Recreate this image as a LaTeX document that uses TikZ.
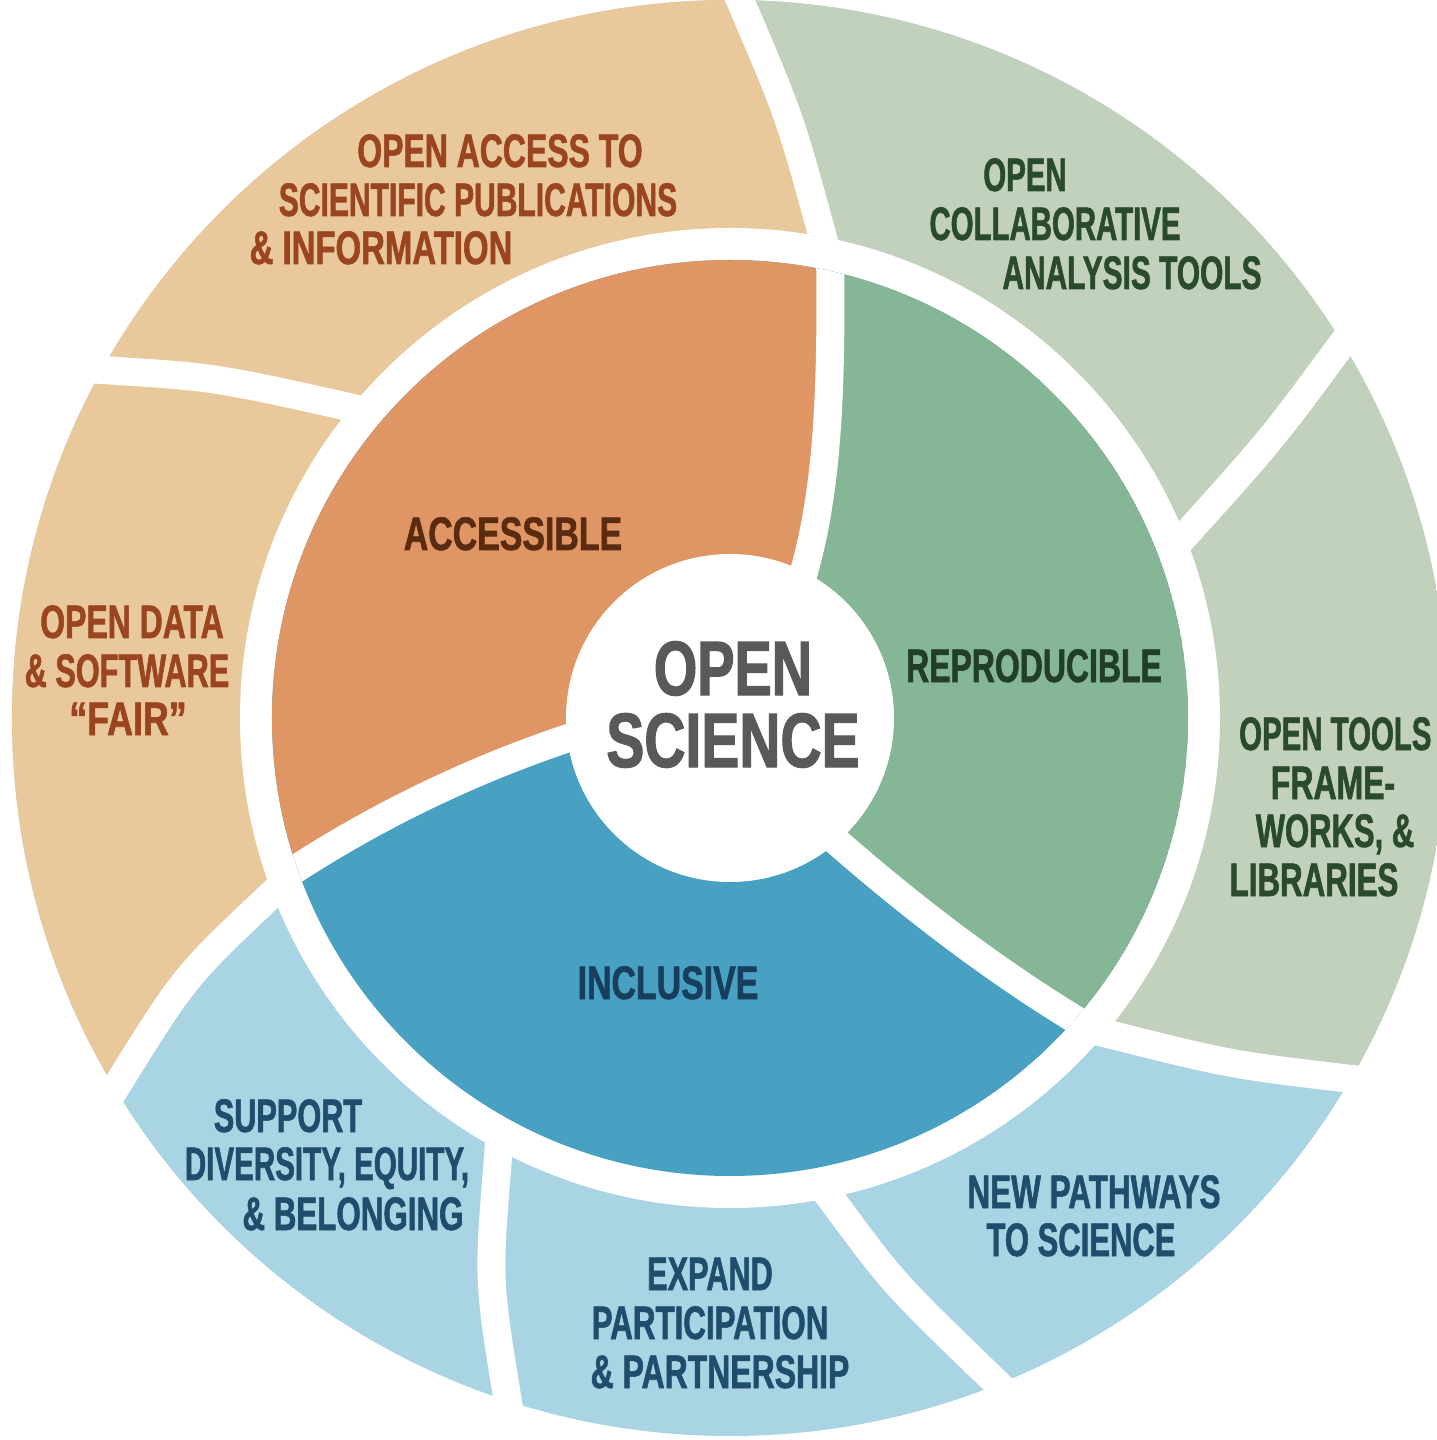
\documentclass[tikz,border=0pt]{standalone}
\usepackage{fontspec}
\newfontfamily\labfont{Liberation Sans}[FakeStretch=0.68,FakeBold=1.2]
\newfontfamily\cenfont{Liberation Sans}[FakeStretch=0.74,FakeBold=1.5]
\newcommand\hsq[2]{\scalebox{#1}[1]{#2}}
\definecolor{tanL}{HTML}{E9C99B}
\definecolor{orangeD}{HTML}{DF9664}
\definecolor{greenL}{HTML}{C1D1BC}
\definecolor{greenD}{HTML}{85B695}
\definecolor{blueL}{HTML}{A8D4E4}
\definecolor{blueD}{HTML}{48A0C3}
\definecolor{tanTxt}{HTML}{9A4520}
\definecolor{accTxt}{HTML}{5B2B10}
\definecolor{cenTxt}{HTML}{58595B}
\definecolor{repTxt}{HTML}{213F25}
\definecolor{grnTxt}{HTML}{2A4A2C}
\definecolor{incTxt}{HTML}{173E5C}
\definecolor{bluTxt}{HTML}{1F4E6C}
\begin{document}
\begin{tikzpicture}[x=1pt,y=1pt,
  lab/.style={font=\labfont\bfseries\fontsize{47}{49}\selectfont, anchor=base, inner sep=0pt},
  cen/.style={font=\cenfont\bfseries\fontsize{77}{80}\selectfont, anchor=base, inner sep=0pt, text=cenTxt},
  gap/.style={draw=white, line width=28pt},
]
\useasboundingbox (-730,-722) rectangle (707,718);

% ---- outer ring ----
\begin{scope}
  \clip (0,0) circle (718);
  \fill[blueL] (0,0) circle (718);
  \fill[tanL] (0,0) -- (-437,-156) -- (-459,-177) .. controls (-545,-258) .. (-614,-369) -- (-646,-420)
     -- (-900,-585) -- (-900,900) -- (-20,900) -- (-14,773) -- (10,718) .. controls (60,601) .. (92,484)
     -- (100,455) -- cycle;
  \fill[greenL] (0,0) -- (100,455) -- (92,484) .. controls (60,601) .. (10,718) -- (-14,773)
     -- (-20,900) -- (900,900) -- (900,-420) -- (690,-369) -- (630,-362) .. controls (502,-347) .. (382,-317)
     -- (353,-310) -- cycle;
\end{scope}
% outer separators
\draw[gap] (100,455) -- (92,484) .. controls (60,601) .. (10,718) -- (-14,773);
\draw[gap] (440,166) -- (460,188) .. controls (542,279) .. (615,378) -- (651,426);
\draw[gap] (353,-310) -- (382,-317) .. controls (502,-347) .. (630,-362) -- (690,-369);
\draw[gap] (87,-462) -- (105,-486) .. controls (164,-566) .. (273,-671) -- (316,-713);
\draw[gap] (-230,-410) -- (-232,-440) .. controls (-242,-562) .. (-222,-684) -- (-212,-743);
\draw[gap] (-437,-156) -- (-459,-177) .. controls (-545,-258) .. (-614,-369) -- (-646,-420);
\draw[gap] (-352,304) -- (-381,311) .. controls (-516,341) .. (-628,348) -- (-688,352);

% ring gap
\fill[white] (0,0) circle (490);

% ---- inner ring ----
\begin{scope}
  \clip (0,0) circle (458);
  \fill[blueD] (0,0) circle (458);
  \fill[orangeD] (0,0) -- (-120,-7) .. controls (-250,-45) and (-370,-105) .. (-470,-175) -- (-800,-420)
     -- (-800,800) -- (100,800) -- (100,470) .. controls (102,320) and (98,205) .. (62,110) -- cycle;
  \fill[greenD] (0,0) -- (62,110) .. controls (98,205) and (102,320) .. (100,470) -- (100,800)
     -- (800,800) -- (800,-560) -- (380,-322) .. controls (280,-265) and (180,-190) .. (80,-100) -- cycle;
  \draw[gap] (62,110) .. controls (98,205) and (102,320) .. (100,470);
  \draw[gap] (-120,-7) .. controls (-250,-45) and (-370,-105) .. (-470,-175);
  \draw[gap] (80,-100) .. controls (180,-190) and (280,-265) .. (380,-322);
\end{scope}

% center
\fill[white] (0,0) circle (164);

% ---- texts ----
\node[cen] (open) at (3,23) {\hsq{0.98}{OPEN}};
\node[cen] (science) at (3,-49) {SCIENCE};

\node[lab, text=accTxt] (acc) at (-217,168) {\hsq{1.06}{ACCESSIBLE}};
\node[lab, text=repTxt] (rep) at (304,36) {REPRODUCIBLE};
\node[lab, text=incTxt] (inc) at (-62,-281) {\hsq{1.06}{INCLUSIVE}};

\node[lab, text=tanTxt] (oa1) at (-230,551) {OPEN ACCESS TO};
\node[lab, text=tanTxt] (oa2) at (-252,502) {\hsq{0.94}{SCIENTIFIC PUBLICATIONS}};
\node[lab, text=tanTxt] (oa3) at (-349,454) {\hsq{1.03}{\& INFORMATION}};

\node[lab, text=tanTxt] (od1) at (-598,80) {OPEN DATA};
\node[lab, text=tanTxt] (od2) at (-603,31) {\hsq{0.96}{\& SOFTWARE}};
\node[lab, text=tanTxt] (od3) at (-602,-17) {\hsq{1.12}{“FAIR”}};

\node[lab, text=grnTxt] (oc1) at (295,527) {\hsq{0.92}{OPEN}};
\node[lab, text=grnTxt] (oc2) at (325,478) {\hsq{0.92}{COLLABORATIVE}};
\node[lab, text=grnTxt] (oc3) at (402,429) {\hsq{0.935}{ANALYSIS TOOLS}};

\node[lab, text=grnTxt, anchor=base west] (ot1) at (509,-32) {\hsq{0.92}{OPEN TOOLS}};
\node[lab, text=grnTxt] (ot2) at (603,-81) {FRAME-};
\node[lab, text=grnTxt] (ot3) at (605,-129) {\hsq{0.97}{WORKS, \&}};
\node[lab, text=grnTxt] (ot4) at (584,-178) {\hsq{0.98}{LIBRARIES}};

\node[lab, text=bluTxt] (np1) at (364,-490) {\hsq{0.985}{NEW PATHWAYS}};
\node[lab, text=bluTxt] (np2) at (351,-538) {\hsq{0.97}{TO SCIENCE}};

\node[lab, text=bluTxt] (ex1) at (-20,-572) {\hsq{0.96}{EXPAND}};
\node[lab, text=bluTxt] (ex2) at (-20,-621) {\hsq{0.98}{PARTICIPATION}};
\node[lab, text=bluTxt] (ex3) at (-10,-670) {\& PARTNERSHIP};

\node[lab, text=bluTxt] (su1) at (-442,-414) {\hsq{0.96}{SUPPORT}};
\node[lab, text=bluTxt] (su2) at (-403,-462) {\hsq{0.925}{DIVERSITY, EQUITY,}};
\node[lab, text=bluTxt] (su3) at (-377,-512) {\hsq{0.98}{\& BELONGING}};
\end{tikzpicture}
\end{document}
